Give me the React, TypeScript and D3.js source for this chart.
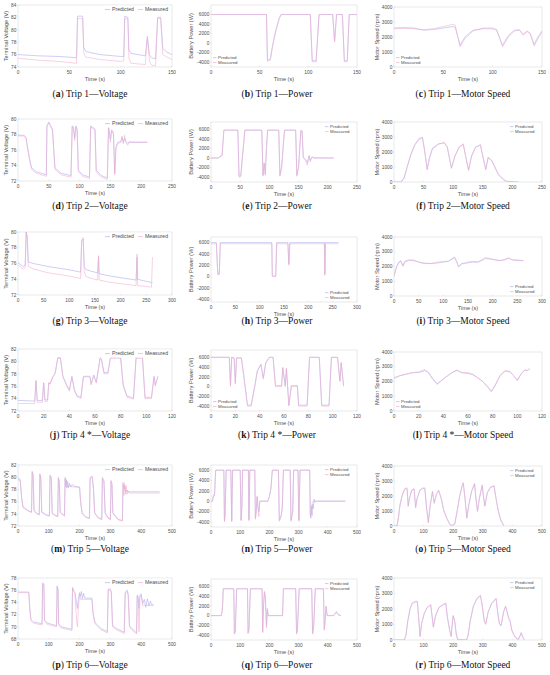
import * as d3 from "d3"

type Pt = [number, number]

// axis ticks
const trip1TimeTicks = [0, 50, 100, 150]
const trip2TimeTicks = [0, 50, 100, 150, 200, 250]
const trip3TimeTicks = [0, 50, 100, 150, 200, 250, 300]
const trip4TimeTicks = [0, 20, 40, 60, 80, 100, 120]
const trip56TimeTicks = [0, 100, 200, 300, 400, 500]

const voltageTicksTrip1 = [74, 76, 78, 80, 82, 84]
const voltageTicksTrip23 = [72, 74, 76, 78, 80]
const voltageTicksTrip45 = [72, 74, 76, 78, 80, 82]
const voltageTicksTrip6 = [68, 70, 72, 74, 76, 78]
const powerTicks = [-4000, -2000, 0, 2000, 4000, 6000]
const speedTicks = [0, 1000, 2000, 3000, 4000]

const seriesNames = ["Predicted", "Measured"]

// ---------- Trip 1 ----------
const trip1VoltageMeasured: Pt[] = [
  [0, 75.4], [20, 75.1], [40, 74.9], [57, 74.6], [58, 81.8], [63, 81.8], [64, 76.3], [66, 75.6],
  [80, 75.2], [100, 74.9], [103, 75], [104, 81.8], [107, 81.8], [108, 75.5], [110, 74.6],
  [124, 74.4], [126, 79], [128, 75], [130, 74.3], [134, 74.2], [136, 81.8], [139, 81.8],
  [141, 76], [145, 75.6], [150, 75.2],
]
const trip1VoltagePredicted: Pt[] = [
  [0, 76], [20, 75.8], [40, 75.7], [57, 75.5], [58, 82.2], [63, 82.2], [64, 77.2], [66, 76.5],
  [80, 76], [100, 75.7], [103, 75.7], [104, 82.2], [107, 82], [108, 76.8], [110, 76.2],
  [124, 75.8], [126, 78.8], [128, 76], [130, 75.5], [134, 75.3], [136, 82], [139, 82],
  [141, 77], [145, 76.4], [150, 76],
]
const trip1PowerMeasured: Pt[] = [
  [0, 6000], [57, 6000], [58, -3800], [61, -3500], [63, -1000], [66, 2000], [70, 5000], [72, 6000],
  [102, 6000], [104, -3900], [108, -3900], [111, 6000], [125, 6000], [127, 200], [129, 6000],
  [135, 6000], [137, -3900], [140, -3900], [142, 6000], [150, 6000],
]
const trip1PowerPredicted: Pt[] = [
  [0, 6000], [57, 6000], [58, -3600], [61, -3300], [63, -800], [66, 2200], [70, 5200], [72, 6000],
  [102, 6000], [104, -3700], [108, -3700], [111, 6000], [125, 6000], [127, 500], [129, 6000],
  [135, 6000], [137, -3700], [140, -3700], [142, 6000], [150, 6000],
]
const trip1SpeedMeasured: Pt[] = [
  [0, 2550], [10, 2580], [20, 2550], [30, 2500], [40, 2550], [50, 2700], [60, 2850], [62, 2800],
  [67, 1350], [72, 1900], [80, 2400], [90, 2600], [100, 2600], [104, 2500], [110, 1350],
  [116, 2000], [122, 2400], [127, 2500], [131, 2100], [135, 2350], [138, 2200], [142, 1400],
  [146, 1900], [150, 2350],
]
const trip1SpeedPredicted: Pt[] = [
  [0, 2600], [10, 2620], [20, 2600], [30, 2450], [40, 2500], [50, 2600], [60, 2700], [62, 2650],
  [67, 1450], [72, 2000], [80, 2450], [90, 2550], [100, 2550], [104, 2450], [110, 1450],
  [116, 2100], [122, 2450], [127, 2450], [131, 2200], [135, 2400], [138, 2250], [142, 1500],
  [146, 2000], [150, 2400],
]

// ---------- Trip 2 ----------
const trip2VoltageMeasured: Pt[] = [
  [0, 77.8], [10, 77.8], [13, 77.5], [18, 75], [22, 73.5], [30, 73], [46, 72.6], [47, 79], [50, 79.5],
  [56, 78.5], [58, 76], [60, 73.5], [70, 72.8], [86, 72.5], [88, 79], [90, 78.8], [92, 77.2],
  [94, 79], [96, 78.5], [98, 73.2], [105, 72.6], [116, 72.3], [118, 79], [125, 78.5], [127, 73.2],
  [135, 72.5], [145, 72.2], [147, 79], [150, 77], [152, 78.5], [155, 78], [157, 72.8], [159, 76.2],
  [162, 76.8], [167, 77], [169, 77.8], [171, 76.8], [173, 77.9], [175, 77], [178, 76.6], [181, 77.1],
  [185, 77], [210, 77],
]
const trip2VoltagePredicted: Pt[] = [
  [0, 77.9], [10, 77.9], [13, 77.6], [18, 75.2], [22, 73.7], [30, 73.2], [46, 72.8], [47, 79.2],
  [50, 79.6], [56, 78.7], [58, 76.2], [60, 73.7], [70, 73], [86, 72.7], [88, 79.1], [90, 79],
  [92, 77.5], [94, 79.1], [96, 78.7], [98, 73.4], [105, 72.8], [116, 72.5], [118, 79.1], [125, 78.7],
  [127, 73.4], [135, 72.7], [145, 72.4], [147, 79.1], [150, 77.4], [152, 78.6], [155, 78.2],
  [157, 73], [159, 76.4], [162, 77], [167, 77.1], [169, 77.6], [171, 77], [173, 77.5], [175, 77.1],
  [178, 76.9], [181, 77], [185, 77], [210, 77],
]
const trip2PowerMeasured: Pt[] = [
  [0, 0], [12, 0], [15, 300], [19, 600], [22, 5800], [46, 5800], [48, -4000], [51, -3900], [53, -1000],
  [56, 3000], [58, 5800], [87, 5800], [89, -3800], [91, -1200], [93, -3600], [95, 2000], [97, 5800],
  [116, 5800], [118, -3800], [121, -2000], [124, 3000], [126, 5800], [145, 5800], [147, -3800],
  [150, -2000], [152, 2000], [154, 5800], [156, 5600], [158, 0], [162, -500], [165, -1500],
  [168, 600], [170, -800], [173, 300], [176, 0], [210, 0],
]
const trip2PowerPredicted: Pt[] = [
  [0, 0], [12, 0], [15, 200], [19, 500], [22, 5800], [46, 5800], [48, -3800], [51, -3700], [53, -800],
  [56, 3200], [58, 5800], [87, 5800], [89, -3600], [91, -1000], [93, -3400], [95, 2200], [97, 5800],
  [116, 5800], [118, -3600], [121, -1800], [124, 3200], [126, 5800], [145, 5800], [147, -3600],
  [150, -1800], [152, 2200], [154, 5800], [156, 5600], [158, 100], [162, -300], [165, -1000],
  [168, 400], [170, -500], [173, 200], [176, 0], [210, 0],
]
const trip2SpeedMeasured: Pt[] = [
  [0, 0], [12, 0], [17, 300], [22, 1000], [28, 1800], [35, 2500], [42, 2900], [48, 3000], [52, 2000],
  [56, 800], [60, 1600], [65, 2200], [75, 2500], [85, 2650], [90, 2300], [97, 900], [103, 1700],
  [110, 2300], [117, 2550], [122, 1500], [126, 750], [131, 1700], [138, 2300], [146, 2500],
  [150, 1700], [155, 800], [159, 1600], [165, 1400], [170, 1000], [176, 500], [183, 200],
  [190, 0], [210, 0],
]
const trip2SpeedPredicted: Pt[] = [
  [0, 0], [12, 0], [17, 250], [22, 950], [28, 1750], [35, 2450], [42, 2850], [48, 2950], [52, 2050],
  [56, 850], [60, 1650], [65, 2250], [75, 2550], [85, 2600], [90, 2350], [97, 950], [103, 1750],
  [110, 2350], [117, 2500], [122, 1550], [126, 800], [131, 1750], [138, 2350], [146, 2450],
  [150, 1750], [155, 850], [159, 1650], [165, 1450], [170, 1050], [176, 550], [183, 250],
  [190, 50], [210, 0],
]

// ---------- Trip 3 ----------
const trip3VoltageMeasured: Pt[] = [
  [0, 75.8], [10, 75.3], [14, 75.5], [16, 80], [18, 79], [20, 75.6], [30, 75.3], [60, 74.8],
  [100, 74.4], [122, 74.1], [124, 79], [127, 79.3], [129, 75], [133, 74.3], [155, 73.9], [157, 77],
  [158, 73.9], [180, 73.6], [230, 73.2], [232, 77.2], [233, 73.2], [245, 73.1], [260, 73], [262, 76.8],
]
const trip3VoltagePredicted: Pt[] = [
  [0, 76.1], [10, 75.6], [14, 75.8], [16, 80], [18, 79.5], [20, 76.2], [30, 76], [60, 75.6],
  [100, 75.2], [122, 74.9], [124, 78.8], [127, 79.1], [129, 75.6], [133, 75.2], [155, 74.8],
  [157, 76.8], [158, 74.7], [180, 74.4], [230, 73.9], [232, 76.8], [233, 74], [245, 73.8],
  [260, 73.6], [262, 73.6],
]
const trip3PowerMeasured: Pt[] = [
  [0, 5800], [11, 5800], [14, 300], [17, 300], [19, 5800], [125, 5800], [126, 0], [133, 0],
  [135, 5800], [158, 5800], [160, 2000], [162, 5800], [233, 5800], [234, 200], [235, 5800], [262, 5800],
]
const trip3PowerPredicted: Pt[] = [
  [0, 6000], [11, 6000], [14, 500], [17, 500], [19, 6000], [125, 6000], [126, 100], [133, 100],
  [135, 6000], [158, 6000], [160, 2200], [162, 6000], [233, 6000], [234, 400], [235, 6000], [262, 6000],
]
const trip3SpeedMeasured: Pt[] = [
  [0, 1300], [3, 1700], [6, 2000], [10, 2250], [14, 2350], [18, 2000], [22, 2300], [30, 2400],
  [40, 2450], [50, 2300], [60, 2250], [75, 2200], [90, 2300], [100, 2350], [110, 2350], [118, 2550],
  [123, 2650], [127, 2300], [131, 1950], [137, 2150], [150, 2300], [160, 2350], [170, 2300],
  [178, 2450], [185, 2600], [195, 2550], [205, 2450], [215, 2400], [225, 2500], [232, 2600],
  [240, 2450], [250, 2450], [262, 2400],
]
const trip3SpeedPredicted: Pt[] = [
  [0, 1350], [3, 1750], [6, 2050], [10, 2300], [14, 2400], [18, 2050], [22, 2350], [30, 2450],
  [40, 2400], [50, 2300], [60, 2200], [75, 2200], [90, 2250], [100, 2300], [110, 2350], [118, 2500],
  [123, 2600], [127, 2350], [131, 2000], [137, 2200], [150, 2250], [160, 2300], [170, 2300],
  [178, 2400], [185, 2550], [195, 2500], [205, 2450], [215, 2400], [225, 2450], [232, 2550],
  [240, 2450], [250, 2400], [262, 2400],
]

// ---------- Trip 4 ----------
const trip4VoltageMeasured: Pt[] = [
  [0, 73.2], [13, 73.2], [14, 77], [15, 73.4], [19, 73.4], [20, 76.6], [21, 73.5], [23, 73.6],
  [24, 76.6], [25, 76.3], [27, 77.5], [29, 78], [31, 80.5], [33, 80.5], [35, 77.5], [38, 76],
  [40, 75.2], [42, 77.5], [44, 75.2], [46, 74.3], [49, 74], [51, 77.5], [56, 77.5], [57, 76.2],
  [59, 77.8], [61, 76.5], [64, 80.5], [65, 80.3], [67, 78], [70, 78], [72, 80.5], [80, 80.5],
  [82, 76], [85, 74.2], [90, 73.9], [92, 80.5], [97, 80.5], [99, 74], [104, 74], [106, 77.5],
  [107, 76], [109, 77.5],
]
const trip4VoltagePredicted: Pt[] = [
  [0, 73.7], [13, 73.6], [14, 76.8], [15, 73.7], [19, 73.7], [20, 76.5], [21, 73.8], [23, 73.8],
  [24, 76.5], [25, 76.4], [27, 77.4], [29, 78.2], [31, 80.6], [33, 80.6], [35, 77.6], [38, 76.2],
  [40, 75.4], [42, 77.6], [44, 75.4], [46, 74.5], [49, 74.2], [51, 77.6], [56, 77.6], [57, 76.4],
  [59, 77.8], [61, 76.6], [64, 80.6], [65, 80.4], [67, 78.2], [70, 78.2], [72, 80.6], [80, 80.6],
  [82, 76.2], [85, 74.4], [90, 74.1], [92, 80.6], [97, 80.6], [99, 74.2], [104, 74.2], [106, 77.6],
  [107, 76.2], [109, 77.6],
]
const trip4PowerMeasured: Pt[] = [
  [0, 6000], [15, 6000], [16, 0], [17, 6000], [19, 5800], [20, 500], [21, 5800], [25, 5800],
  [27, 2000], [30, -4000], [33, -4000], [36, 0], [38, 3000], [41, 4500], [43, 1500], [45, 4800],
  [48, 6000], [51, 6000], [53, 0], [58, 0], [59, 4000], [61, 0], [62, 3800], [64, -4000], [66, 0],
  [71, 0], [72, -4000], [79, -4000], [81, 6000], [89, 6000], [91, -4000], [97, -4000], [99, 6000],
  [104, 6000], [106, 1000], [107, 5000], [109, 0],
]
const trip4PowerPredicted: Pt[] = [
  [0, 6000], [15, 6000], [16, 300], [17, 6000], [19, 5900], [20, 800], [21, 5900], [25, 5900],
  [27, 2200], [30, -3800], [33, -3800], [36, 200], [38, 3200], [41, 4600], [43, 1800], [45, 4900],
  [48, 6000], [51, 6000], [53, 200], [58, 200], [59, 3800], [61, 200], [62, 3600], [64, -3800],
  [66, 200], [71, 200], [72, -3800], [79, -3800], [81, 6000], [89, 6000], [91, -3800], [97, -3800],
  [99, 6000], [104, 6000], [106, 1200], [107, 4800], [109, 200],
]
const trip4SpeedMeasured: Pt[] = [
  [0, 2200], [5, 2400], [10, 2500], [15, 2600], [20, 2650], [25, 2800], [28, 2600], [31, 2200],
  [35, 1800], [38, 2000], [42, 2300], [47, 2600], [51, 2800], [55, 2600], [60, 2600], [64, 2500],
  [67, 2300], [72, 2000], [76, 1600], [79, 1300], [82, 1700], [86, 2400], [90, 2750], [94, 2700],
  [97, 2400], [100, 2050], [103, 2500], [106, 2800], [108, 2750], [110, 2900],
]
const trip4SpeedPredicted: Pt[] = [
  [0, 2250], [5, 2400], [10, 2500], [15, 2600], [20, 2600], [25, 2750], [28, 2600], [31, 2250],
  [35, 1850], [38, 2050], [42, 2300], [47, 2600], [51, 2750], [55, 2600], [60, 2550], [64, 2450],
  [67, 2300], [72, 2000], [76, 1650], [79, 1350], [82, 1750], [86, 2400], [90, 2700], [94, 2650],
  [97, 2400], [100, 2100], [103, 2500], [106, 2750], [108, 2750], [110, 2850],
]

// ---------- Trip 5 ----------
const trip5VoltageMeasured: Pt[] = [
  [0, 79.8], [7, 79.7], [12, 76.5], [16, 75], [30, 74.5], [44, 74.2], [46, 81], [49, 80.5], [52, 74.5],
  [60, 74], [69, 73.8], [71, 80.6], [74, 80], [77, 74.2], [90, 73.8], [102, 73.6], [104, 80.4],
  [108, 80], [111, 74], [120, 73.7], [129, 73.5], [131, 80], [134, 79.5], [137, 74.2], [146, 73.8],
  [151, 73.6], [153, 80], [157, 79.2], [161, 78.5], [200, 78.3], [203, 76], [208, 74], [220, 73.4],
  [232, 73.2], [234, 80], [241, 80.2], [245, 78], [249, 74], [260, 73.3], [272, 73], [274, 80],
  [279, 79.5], [283, 74], [292, 73.3], [300, 73], [302, 79.5], [305, 79], [308, 74], [325, 73],
  [339, 72.8], [341, 79.2], [344, 77], [346, 79], [349, 77.2], [351, 78.6], [354, 77.2], [357, 77.8],
  [362, 77.4], [460, 77.4],
]
const trip5VoltagePredicted: Pt[] = [
  [0, 79.6], [7, 79.5], [12, 76.6], [16, 75.2], [30, 74.6], [44, 74.3], [46, 80.8], [49, 80.3],
  [52, 74.6], [60, 74.1], [69, 73.9], [71, 80.4], [74, 79.8], [77, 74.3], [90, 73.9], [102, 73.7],
  [104, 80.2], [108, 79.8], [111, 74.1], [120, 73.8], [129, 73.6], [131, 79.8], [134, 79.3],
  [137, 74.3], [146, 73.9], [151, 73.7], [153, 79.8], [155, 78.4], [157, 79.6], [159, 78.2],
  [161, 79.3], [164, 78.3], [167, 79], [171, 78.4], [176, 78.8], [185, 78.5], [200, 78.4], [203, 76.2],
  [208, 74.2], [220, 73.5], [232, 73.3], [234, 79.8], [241, 80], [245, 78.2], [249, 74.2], [260, 73.4],
  [272, 73.1], [274, 79.8], [279, 79.3], [283, 74.2], [292, 73.4], [300, 73.1], [302, 79.3],
  [305, 78.8], [308, 74.2], [325, 73.1], [339, 72.9], [341, 78.8], [344, 78], [347, 78.6],
  [350, 77.6], [354, 77.9], [358, 77.5], [362, 77.6], [460, 77.6],
]
const trip5PowerMeasured: Pt[] = [
  [0, 0], [5, 0], [8, 1200], [12, 1200], [16, 6000], [44, 6000], [46, -4000], [48, -3000], [52, 6000],
  [68, 6000], [71, -4000], [74, 6000], [100, 6000], [103, -3800], [106, -1000], [108, 6000],
  [128, 6000], [130, -3800], [133, 6000], [150, 6000], [152, -3500], [155, -2000], [158, 1000],
  [161, -1500], [164, -3000], [167, 0], [195, 0], [200, 1000], [205, 2500], [210, 6000], [231, 6000],
  [234, -3900], [240, -3000], [244, -1500], [248, 6000], [271, 6000], [274, -3900], [280, -2000],
  [283, 6000], [298, 6000], [301, -3900], [305, 6000], [338, 6000], [340, -2800], [343, -1200],
  [347, -300], [350, 0], [460, 0],
]
const trip5PowerPredicted: Pt[] = [
  [0, 0], [5, 0], [8, 1000], [12, 1000], [16, 6000], [44, 6000], [46, -3800], [48, -2800], [52, 6000],
  [68, 6000], [71, -3800], [74, 6000], [100, 6000], [103, -3600], [106, -800], [108, 6000],
  [128, 6000], [130, -3600], [133, 6000], [150, 6000], [152, -3300], [155, -1800], [158, 800],
  [161, -1000], [164, -2000], [167, 0], [195, 0], [200, 900], [205, 2300], [210, 6000], [231, 6000],
  [234, -3700], [240, -2800], [244, -1300], [248, 6000], [271, 6000], [274, -3700], [280, -1800],
  [283, 6000], [298, 6000], [301, -3700], [305, 6000], [338, 6000], [340, -2500], [342, -3300],
  [344, -1000], [346, -2800], [348, -600], [350, -1500], [353, 400], [356, -200], [360, 0], [460, 0],
]
const trip5SpeedMeasured: Pt[] = [
  [0, 0], [10, 0], [15, 600], [20, 1400], [28, 2100], [36, 2500], [44, 2550], [48, 1300], [52, 1800],
  [60, 2400], [68, 2500], [73, 1200], [78, 1800], [88, 2400], [97, 2550], [104, 2550], [110, 1200],
  [116, 200], [122, 1300], [130, 2300], [136, 1500], [143, 2100], [151, 2400], [160, 1800],
  [168, 1000], [178, 500], [188, 100], [195, 0], [205, 100], [212, 800], [222, 2000], [230, 2700],
  [234, 2900], [240, 1800], [246, 500], [252, 1300], [262, 2300], [272, 2850], [276, 2000],
  [282, 950], [288, 1800], [298, 2750], [302, 2000], [307, 1300], [315, 2200], [325, 2600],
  [338, 2700], [345, 1800], [352, 1000], [360, 400], [368, 100], [372, 0],
]
const trip5SpeedPredicted: Pt[] = [
  [0, 0], [10, 0], [15, 550], [20, 1350], [28, 2050], [36, 2450], [44, 2500], [48, 1350], [52, 1850],
  [60, 2400], [68, 2450], [73, 1250], [78, 1850], [88, 2400], [97, 2500], [104, 2500], [110, 1250],
  [116, 250], [122, 1350], [130, 2300], [136, 1550], [143, 2100], [151, 2350], [160, 1800],
  [168, 1050], [178, 550], [188, 150], [195, 50], [205, 150], [212, 850], [222, 2000], [230, 2650],
  [234, 2850], [240, 1850], [246, 550], [252, 1350], [262, 2300], [272, 2800], [276, 2000],
  [282, 1000], [288, 1800], [298, 2700], [302, 2000], [307, 1350], [315, 2200], [325, 2550],
  [338, 2650], [345, 1800], [352, 1050], [360, 450], [368, 150], [372, 50],
]

// ---------- Trip 6 ----------
const trip6VoltageMeasured: Pt[] = [
  [0, 75.6], [35, 75.6], [38, 73], [42, 71], [50, 70.6], [78, 70.3], [80, 77], [84, 76.8], [86, 71],
  [95, 70.4], [125, 70], [127, 76.5], [130, 76], [132, 70.3], [140, 69.8], [175, 69.4], [177, 76.5],
  [181, 76], [185, 75.5], [190, 71], [193, 70], [196, 73], [200, 75.5], [203, 74.5], [240, 74.5],
  [244, 72], [250, 70.5], [270, 69.5], [290, 69], [293, 76], [300, 76], [303, 75.5], [307, 70],
  [320, 69.5], [345, 68.9], [348, 75.5], [355, 75.8], [358, 75], [362, 70], [370, 69.5], [385, 68.8],
  [387, 75], [390, 74.5], [393, 69.2], [396, 75], [400, 75.2], [405, 73.5], [440, 73.5],
]
const trip6VoltagePredicted: Pt[] = [
  [0, 75.7], [35, 75.7], [38, 73.2], [42, 71.2], [50, 70.8], [78, 70.5], [80, 77.2], [84, 77],
  [86, 71.2], [95, 70.6], [125, 70.2], [127, 76.7], [130, 76.2], [132, 70.5], [140, 70], [175, 69.6],
  [177, 76.3], [181, 75.8], [185, 75.6], [190, 74], [193, 73], [196, 74.5], [200, 75.6], [203, 75],
  [206, 75.8], [209, 74.6], [213, 75.5], [217, 74.7], [240, 74.7], [244, 72.2], [250, 70.7],
  [270, 69.7], [290, 69.2], [293, 76.2], [300, 76.2], [303, 75.7], [307, 70.2], [320, 69.7],
  [345, 69.1], [348, 75.7], [355, 76], [358, 75.2], [362, 70.2], [370, 69.7], [385, 69], [387, 75.2],
  [390, 75], [393, 73], [396, 75.2], [400, 75.4], [405, 73.8], [410, 74.5], [415, 73.2], [420, 74.6],
  [425, 73.4], [430, 74.2], [435, 73.5], [440, 73.7],
]
const trip6PowerMeasured: Pt[] = [
  [0, 0], [35, 0], [38, 1000], [40, 2500], [42, 5500], [78, 5500], [80, -3800], [83, -3500],
  [88, 5500], [125, 5500], [127, -3700], [130, -3000], [135, 5500], [175, 5500], [177, -3500],
  [180, 2000], [183, 5000], [186, 3500], [190, -2500], [193, 1500], [196, 0], [245, 0], [248, 5500],
  [290, 5500], [293, -3800], [296, -3000], [302, 5500], [345, 5500], [348, -3800], [352, -2000],
  [357, 5500], [385, 5500], [388, -3000], [391, -1000], [394, 2000], [398, 0], [420, 0], [425, 500],
  [430, 900], [435, 200], [445, 0],
]
const trip6PowerPredicted: Pt[] = [
  [0, 0], [35, 0], [38, 800], [40, 2300], [42, 5500], [78, 5500], [80, -3600], [83, -3300],
  [88, 5500], [125, 5500], [127, -3500], [130, -2800], [135, 5500], [175, 5500], [177, -3300],
  [180, 2200], [183, 4800], [186, 4000], [190, -2000], [193, 1200], [196, 0], [245, 0], [248, 5500],
  [290, 5500], [293, -3600], [296, -2800], [302, 5500], [345, 5500], [348, -3600], [352, -1800],
  [357, 5500], [385, 5500], [388, -2800], [391, -800], [394, 1800], [398, 0], [420, 0], [425, 400],
  [430, 700], [435, 200], [445, 0],
]
const trip6SpeedMeasured: Pt[] = [
  [0, 0], [35, 0], [40, 300], [47, 1300], [55, 2100], [62, 2400], [72, 2500], [79, 2500], [83, 1500],
  [88, 200], [93, 1000], [102, 1700], [112, 2100], [124, 2300], [128, 1600], [133, 800], [140, 1500],
  [152, 2100], [165, 2300], [175, 2400], [180, 1500], [188, 600], [193, 200], [197, 1000], [200, 1600],
  [205, 1200], [210, 400], [215, 0], [245, 0], [250, 300], [258, 1300], [268, 2200], [280, 2700],
  [292, 2900], [298, 2200], [305, 1200], [310, 1000], [318, 1800], [330, 2400], [345, 2700],
  [350, 1800], [356, 1000], [362, 900], [370, 1800], [377, 2200], [382, 1800], [387, 1400],
  [392, 1200], [398, 600], [405, 300], [412, 100], [420, 0], [425, 200], [430, 500], [434, 200], [440, 0],
]
const trip6SpeedPredicted: Pt[] = [
  [0, 0], [35, 0], [40, 250], [47, 1250], [55, 2050], [62, 2350], [72, 2450], [79, 2450], [83, 1550],
  [88, 250], [93, 1050], [102, 1700], [112, 2100], [124, 2250], [128, 1650], [133, 850], [140, 1550],
  [152, 2100], [165, 2250], [175, 2350], [180, 1550], [188, 650], [193, 250], [197, 1050], [200, 1550],
  [205, 1250], [210, 450], [215, 50], [245, 0], [250, 250], [258, 1250], [268, 2150], [280, 2650],
  [292, 2850], [298, 2250], [305, 1250], [310, 1050], [318, 1800], [330, 2350], [345, 2650],
  [350, 1850], [356, 1050], [362, 950], [370, 1800], [377, 2150], [382, 1850], [387, 1450],
  [392, 1250], [398, 650], [405, 350], [412, 150], [420, 50], [425, 250], [430, 450], [434, 250], [440, 50],
]

// ---------- layout ----------
const W = 550
const H = 675
const predColor = "#b4b4f2"
const measColor = "#f3adcb"
const boxColor = "#d2d2d2"
const textColor = "#505050"
const sans = "'Liberation Sans', Arial, sans-serif"
const serif = "'Liberation Serif', 'Times New Roman', serif"

type LegendPos = "topH" | "tr" | "bl" | "br"

interface PanelSpec {
  letter: string
  title: string
  col: number
  top: number
  bottom: number
  captionY: number
  xMax: number
  xTicks: number[]
  yDomain: [number, number]
  yTicks: number[]
  yLabel: string
  predicted: Pt[]
  measured: Pt[]
  legend: LegendPos
}

const cols = [
  { left: 18, right: 172, yLabelX: 6, captionX: 90 },
  { left: 211, right: 357, yLabelX: 191, captionX: 277 },
  { left: 394, right: 542, yLabelX: 377, captionX: 463 },
]

const VL = "Terminal Voltage (V)"
const PL = "Battery Power (W)"
const SL = "Motor Speed (rpm)"

const panels: PanelSpec[] = [
  { letter: "a", title: "Trip 1\u2014Voltage", col: 0, top: 5, bottom: 67, captionY: 94, xMax: 150, xTicks: trip1TimeTicks, yDomain: [74, 84], yTicks: voltageTicksTrip1, yLabel: VL, predicted: trip1VoltagePredicted, measured: trip1VoltageMeasured, legend: "topH" },
  { letter: "b", title: "Trip 1\u2014Power", col: 1, top: 5, bottom: 67, captionY: 94, xMax: 150, xTicks: trip1TimeTicks, yDomain: [-5000, 8000], yTicks: powerTicks, yLabel: PL, predicted: trip1PowerPredicted, measured: trip1PowerMeasured, legend: "bl" },
  { letter: "c", title: "Trip 1\u2014Motor Speed", col: 2, top: 7, bottom: 67, captionY: 94, xMax: 150, xTicks: trip1TimeTicks, yDomain: [0, 4000], yTicks: speedTicks, yLabel: SL, predicted: trip1SpeedPredicted, measured: trip1SpeedMeasured, legend: "bl" },

  { letter: "d", title: "Trip 2\u2014Voltage", col: 0, top: 119, bottom: 181, captionY: 206, xMax: 250, xTicks: trip2TimeTicks, yDomain: [72, 80], yTicks: voltageTicksTrip23, yLabel: VL, predicted: trip2VoltagePredicted, measured: trip2VoltageMeasured, legend: "topH" },
  { letter: "e", title: "Trip 2\u2014Power", col: 1, top: 122, bottom: 182, captionY: 206, xMax: 250, xTicks: trip2TimeTicks, yDomain: [-5000, 7500], yTicks: powerTicks, yLabel: PL, predicted: trip2PowerPredicted, measured: trip2PowerMeasured, legend: "tr" },
  { letter: "f", title: "Trip 2\u2014Motor Speed", col: 2, top: 122, bottom: 182, captionY: 206, xMax: 250, xTicks: trip2TimeTicks, yDomain: [0, 4000], yTicks: speedTicks, yLabel: SL, predicted: trip2SpeedPredicted, measured: trip2SpeedMeasured, legend: "tr" },

  { letter: "g", title: "Trip 3\u2014Voltage", col: 0, top: 232, bottom: 295, captionY: 321, xMax: 300, xTicks: trip3TimeTicks, yDomain: [72, 80], yTicks: voltageTicksTrip23, yLabel: VL, predicted: trip3VoltagePredicted, measured: trip3VoltageMeasured, legend: "topH" },
  { letter: "h", title: "Trip 3\u2014Power", col: 1, top: 237, bottom: 302, captionY: 321, xMax: 300, xTicks: trip3TimeTicks, yDomain: [-4500, 7000], yTicks: powerTicks, yLabel: PL, predicted: trip3PowerPredicted, measured: trip3PowerMeasured, legend: "br" },
  { letter: "i", title: "Trip 3\u2014Motor Speed", col: 2, top: 237, bottom: 296, captionY: 321, xMax: 300, xTicks: trip3TimeTicks, yDomain: [0, 4000], yTicks: speedTicks, yLabel: SL, predicted: trip3SpeedPredicted, measured: trip3SpeedMeasured, legend: "br" },

  { letter: "j", title: "Trip 4 *\u2014Voltage", col: 0, top: 349, bottom: 411, captionY: 435, xMax: 120, xTicks: trip4TimeTicks, yDomain: [72, 82], yTicks: voltageTicksTrip45, yLabel: VL, predicted: trip4VoltagePredicted, measured: trip4VoltageMeasured, legend: "topH" },
  { letter: "k", title: "Trip 4 *\u2014Power", col: 1, top: 350, bottom: 411, captionY: 435, xMax: 120, xTicks: trip4TimeTicks, yDomain: [-5000, 7500], yTicks: powerTicks, yLabel: PL, predicted: trip4PowerPredicted, measured: trip4PowerMeasured, legend: "bl" },
  { letter: "l", title: "Trip 4 *\u2014Motor Speed", col: 2, top: 352, bottom: 411, captionY: 435, xMax: 120, xTicks: trip4TimeTicks, yDomain: [0, 4000], yTicks: speedTicks, yLabel: SL, predicted: trip4SpeedPredicted, measured: trip4SpeedMeasured, legend: "bl" },

  { letter: "m", title: "Trip 5\u2014Voltage", col: 0, top: 465, bottom: 526, captionY: 549, xMax: 500, xTicks: trip56TimeTicks, yDomain: [72, 82], yTicks: voltageTicksTrip45, yLabel: VL, predicted: trip5VoltagePredicted, measured: trip5VoltageMeasured, legend: "topH" },
  { letter: "n", title: "Trip 5\u2014Power", col: 1, top: 465, bottom: 527, captionY: 549, xMax: 500, xTicks: trip56TimeTicks, yDomain: [-5000, 7000], yTicks: powerTicks, yLabel: PL, predicted: trip5PowerPredicted, measured: trip5PowerMeasured, legend: "tr" },
  { letter: "o", title: "Trip 5\u2014Motor Speed", col: 2, top: 466, bottom: 526, captionY: 549, xMax: 500, xTicks: trip56TimeTicks, yDomain: [0, 4000], yTicks: speedTicks, yLabel: SL, predicted: trip5SpeedPredicted, measured: trip5SpeedMeasured, legend: "tr" },

  { letter: "p", title: "Trip 6\u2014Voltage", col: 0, top: 578, bottom: 639, captionY: 665, xMax: 500, xTicks: trip56TimeTicks, yDomain: [68, 78], yTicks: voltageTicksTrip6, yLabel: VL, predicted: trip6VoltagePredicted, measured: trip6VoltageMeasured, legend: "topH" },
  { letter: "q", title: "Trip 6\u2014Power", col: 1, top: 579, bottom: 640, captionY: 665, xMax: 500, xTicks: trip56TimeTicks, yDomain: [-5000, 7500], yTicks: powerTicks, yLabel: PL, predicted: trip6PowerPredicted, measured: trip6PowerMeasured, legend: "tr" },
  { letter: "r", title: "Trip 6\u2014Motor Speed", col: 2, top: 578, bottom: 640, captionY: 665, xMax: 500, xTicks: trip56TimeTicks, yDomain: [0, 4000], yTicks: speedTicks, yLabel: SL, predicted: trip6SpeedPredicted, measured: trip6SpeedMeasured, legend: "tr" },
]

function Legend({ pos, left, right, top, bottom }: { pos: LegendPos; left: number; right: number; top: number; bottom: number }) {
  const colors = [predColor, measColor]
  if (pos === "topH") {
    const x0 = right - 70
    return (
      <g>
        <rect x={x0} y={top + 0.6} width={69} height={8} fill="#fff" />
        {seriesNames.map((name, i) => {
          const sx = x0 + 3 + i * 33
          return (
            <g key={name}>
              <line x1={sx} x2={sx + 5} y1={top + 4.6} y2={top + 4.6} stroke={colors[i]} strokeWidth={0.7} />
              <text x={sx + 7} y={top + 6.4} fontSize={5.2} fill={textColor} fontFamily={sans}>{name}</text>
            </g>
          )
        })}
      </g>
    )
  }
  const x0 = pos === "bl" ? left + 1 : right - 33
  const y0 = pos === "tr" ? top + 1 : bottom - 13
  return (
    <g>
      <rect x={x0} y={y0} width={32} height={12} fill="#fff" />
      {seriesNames.map((name, i) => (
        <g key={name}>
          <line x1={x0 + 1} x2={x0 + 4.5} y1={y0 + 3.6 + i * 5} y2={y0 + 3.6 + i * 5} stroke={colors[i]} strokeWidth={0.7} />
          <text x={x0 + 6} y={y0 + 5.2 + i * 5} fontSize={4.4} fill={textColor} fontFamily={sans}>{name}</text>
        </g>
      ))}
    </g>
  )
}

function Panel({ p, idx }: { p: PanelSpec; idx: number }) {
  const { left, right, yLabelX, captionX } = cols[p.col]
  const x = d3.scaleLinear().domain([0, p.xMax]).range([left, right])
  const y = d3.scaleLinear().domain(p.yDomain).range([p.bottom, p.top])
  const line = d3.line<Pt>().x(d => x(d[0])).y(d => y(d[1]))
  const clipId = `clip-${idx}`
  const midY = (p.top + p.bottom) / 2

  return (
    <g>
      <defs>
        <clipPath id={clipId}>
          <rect x={left} y={p.top} width={right - left} height={p.bottom - p.top} />
        </clipPath>
      </defs>
      <rect x={left} y={p.top} width={right - left} height={p.bottom - p.top} fill="#fff" />
      <g clipPath={`url(#${clipId})`}>
        <path d={line(p.predicted) ?? ""} fill="none" stroke={predColor} strokeWidth={0.65} strokeLinejoin="round" />
        <path d={line(p.measured) ?? ""} fill="none" stroke={measColor} strokeWidth={0.65} strokeLinejoin="round" opacity={0.85} />
      </g>
      <rect x={left} y={p.top} width={right - left} height={p.bottom - p.top} fill="none" stroke={boxColor} strokeWidth={0.5} />
      {p.xTicks.map(t => (
        <g key={`x${t}`}>
          <line x1={x(t)} x2={x(t)} y1={p.bottom} y2={p.bottom - 1.3} stroke={boxColor} strokeWidth={0.4} />
          <text x={x(t)} y={p.bottom + 6.6} fontSize={4.8} textAnchor="middle" fill={textColor} fontFamily={sans}>{t}</text>
        </g>
      ))}
      {p.yTicks.map(t => (
        <g key={`y${t}`}>
          <line x1={left} x2={left + 1.3} y1={y(t)} y2={y(t)} stroke={boxColor} strokeWidth={0.4} />
          <text x={left - 1.6} y={y(t) + 1.7} fontSize={4.8} textAnchor="end" fill={textColor} fontFamily={sans}>{t}</text>
        </g>
      ))}
      <text x={(left + right) / 2} y={p.bottom + 14} fontSize={5.6} textAnchor="middle" fill={textColor} fontFamily={sans}>Time (s)</text>
      <text transform={`translate(${yLabelX + 2},${midY}) rotate(-90)`} fontSize={5.6} textAnchor="middle" fill={textColor} fontFamily={sans}>{p.yLabel}</text>
      <Legend pos={p.legend} left={left} right={right} top={p.top} bottom={p.bottom} />
      <text x={captionX} y={p.captionY + 3} fontSize={9.5} textAnchor="middle" fill="#111" fontFamily={serif}>
        (<tspan fontWeight="bold">{p.letter}</tspan>) {p.title}
      </text>
    </g>
  )
}

export default function App() {
  return (
    <svg width={W} height={H} viewBox={`0 0 ${W} ${H}`} style={{ position: "absolute", left: 0, top: 0, background: "#fff" }}>
      <rect width={W} height={H} fill="#fff" />
      {panels.map((p, i) => <Panel key={p.letter} p={p} idx={i} />)}
    </svg>
  )
}
